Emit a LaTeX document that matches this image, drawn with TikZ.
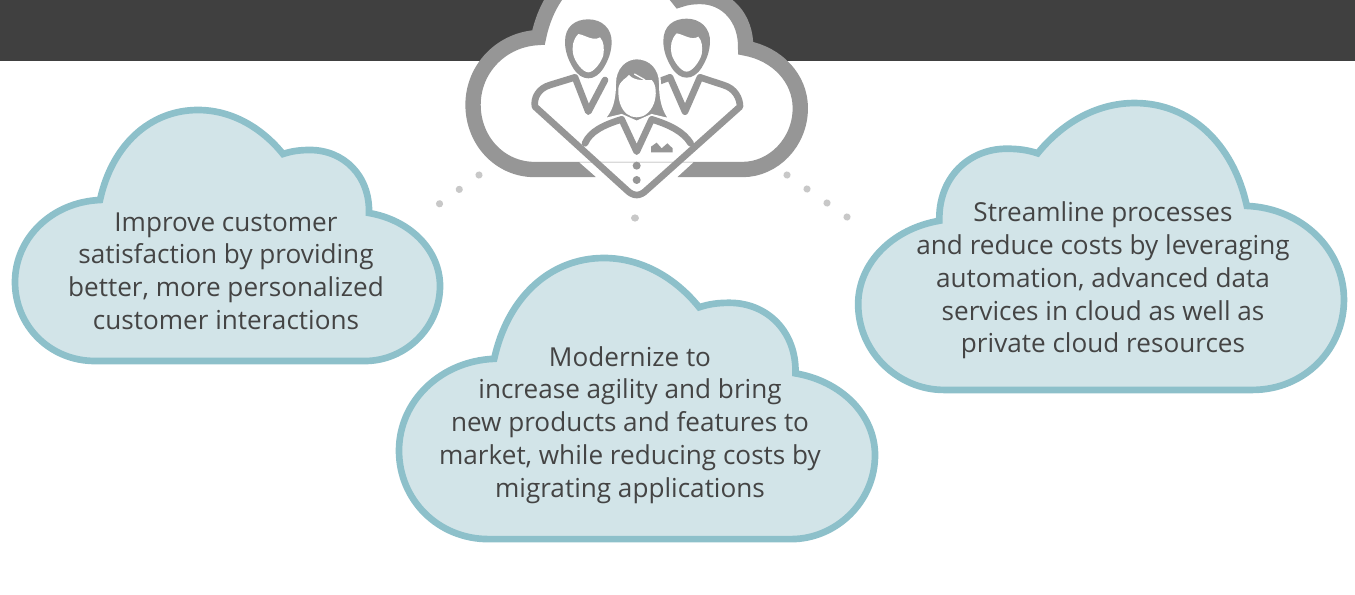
\documentclass[tikz,border=0pt]{standalone}
\usepackage{fontspec}
\setmainfont{Open Sans}
\definecolor{myband}{RGB}{64, 64, 64}
\definecolor{mygray}{RGB}{150, 150, 150}
\definecolor{mydot}{RGB}{200, 200, 200}
\definecolor{myline}{RGB}{141, 192, 202}
\definecolor{myfill}{RGB}{210, 228, 232}
\definecolor{mytext}{RGB}{68, 68, 68}
\newcommand{\cloudpath}{(100,200) .. controls (112,145) and (150,110) .. (198,110) .. controls (232,110) and (262,128) .. (283,154) .. controls (292,151) and (300,150) .. (310,150) .. controls (344,150) and (370,176) .. (369,213) .. controls (410,220) and (440,250) .. (440,286) .. controls (440,328) and (405,361) .. (365,361) -- (95,361) .. controls (50,361) and (15,326) .. (15,282) .. controls (15,238) and (52,202) .. (100,200) -- cycle}
\newcommand{\manhead}{(345,125) .. controls (345,80) and (375,58) .. (415,58) .. controls (455,58) and (487,85) .. (485,130) .. controls (483,160) and (475,180) .. (460,205) .. controls (447,225) and (432,235) .. (415,235) .. controls (398,235) and (383,225) .. (370,205) .. controls (355,180) and (345,155) .. (345,125) -- cycle}
\newcommand{\manface}{(385,102) .. controls (405,105) and (430,125) .. (450,112) .. controls (462,125) and (463,145) .. (460,165) .. controls (455,185) and (432,217) .. (415,217) .. controls (398,217) and (375,185) .. (370,165) .. controls (365,140) and (368,120) .. (385,102) -- cycle}
\tikzset{
	cloudbox/.style={draw=myline, fill=myfill, line width=5pt, miter limit=10},
	topcloud/.style={draw=mygray, fill=white, line width=11.5pt, miter limit=10},
	cloudtext/.style={text=mytext, align=center, font=\fontsize{19.6}{24.6}\selectfont},
	dotline/.style={draw=mydot, line width=5.4pt, line cap=round, dash pattern=on 0.01pt off 18.3pt},
	bodyline/.style={draw=mygray, line width=5pt, line join=round, line cap=round}
}
\begin{document}
\begin{tikzpicture}[x=0.75pt, y=-0.75pt]
	\useasboundingbox (0,0) rectangle (1355,595);
	\fill[myband] (0,0) rectangle (1355,61);
	% dots
	\coordinate (dotl1) at (479,175);
	\coordinate (dotl2) at (420,218);
	\coordinate (dotm1) at (635,218);
	\coordinate (dotm2) at (635,242);
	\coordinate (dotr1) at (787,175);
	\coordinate (dotr2) at (867,231);
	\draw[dotline] (dotl1) -- (dotl2);
	\draw[dotline] (dotm1) -- (dotm2);
	\draw[dotline] (dotr1) -- (dotr2);
	% clouds
	\path[cloudbox] \cloudpath;
	\path[cloudbox, shift={(382.2,134.8)}, scale=1.12] \cloudpath;
	\path[cloudbox, shift={(1361.1,-22.7)}, xscale=-1.143, yscale=1.143] \cloudpath;
	\path[topcloud, shift={(461.5,-126.5)}, xscale=.77, yscale=.82] \cloudpath;
	\node[cloudtext] (custom) at (226,271) {Improve customer\\satisfaction by providing\\better, more personalized\\customer interactions};
	\node[cloudtext] (modern) at (630,425) {Modernize to\\increase agility and bring\\new products and features to\\market, while reducing costs by\\migrating applications};
	\node[cloudtext] (stream) at (1103,280.5) {Streamline processes\\and reduce costs by leveraging\\automation, advanced data\\services in cloud as well as\\private cloud resources};
	% people
	\begin{scope}[shift={(450,0)}, scale=1/3]
		\fill[white] (388,487) -- (437,530) -- (437,620) -- (683,620) -- (683,530) -- (730,487) -- cycle;
		\draw[bodyline] (465,240) -- (415,335) -- (375,232) -- (300,255) .. controls (265,265) and (250,295) .. (255,320) -- (530,570) .. controls (550,590) and (570,590) .. (590,570) -- (870,320) .. controls (870,295) and (855,265) .. (820,255) -- (750,232) -- (705,335) -- (660,232) -- (625,245);
		\fill[mygray] \manhead;
		\fill[white] \manface;
		\begin{scope}[shift={(295,-2)}]
			\fill[mygray] \manhead;
			\fill[white] \manface;
		\end{scope}
		\path[draw=white, line width=1.5pt, fill=mygray] (460,358) .. controls (485,335) and (495,300) .. (495,250) .. controls (495,205) and (525,175) .. (560,175) .. controls (600,175) and (630,205) .. (630,250) .. controls (630,300) and (640,335) .. (660,358) -- (605,345) -- (560,365) -- (515,345) -- cycle;
		\fill[white] (505,265) .. controls (510,240) and (530,235) .. (537,225) .. controls (555,245) and (590,240) .. (605,240) .. controls (620,255) and (620,285) .. (612,310) .. controls (600,340) and (580,352) .. (560,352) .. controls (540,352) and (520,340) .. (510,310) .. controls (505,295) and (505,280) .. (505,265) -- cycle;
		\draw[white, line width=1pt] (553,222) -- (585,240);
		\draw[bodyline] (405,430) .. controls (420,395) and (460,375) .. (515,358) -- (560,455) -- (605,358) .. controls (660,375) and (700,395) .. (722,430);
		\fill[mygray] (560,497) circle (12) (560,540) circle (12);
		\fill[mygray] (603,457) -- (603,440) -- (620,428) -- (635,445) -- (652,430) -- (668,445) -- (668,457) -- cycle;
	\end{scope}
\end{tikzpicture}
\end{document}
